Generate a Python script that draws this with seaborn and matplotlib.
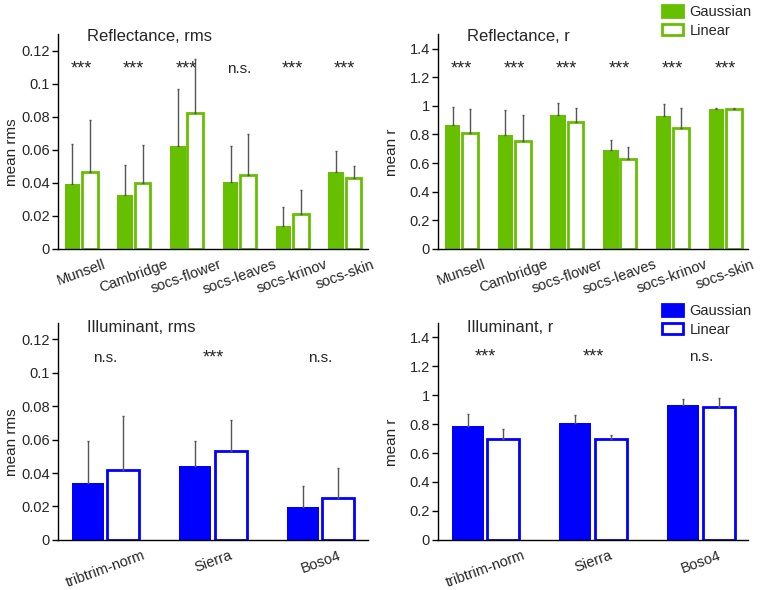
import numpy as np
import pandas as pd
import seaborn as sns
import matplotlib.pyplot as plt
from matplotlib.patches import Patch

sns.set_theme(style="white")
plt.rcParams['font.family'] = ['Liberation Sans', 'DejaVu Sans']

GREEN = '#66c000'
BLUE = '#0000ff'

# reflectance data sets
refl_sets = ["Munsell", "Cambridge", "socs-flower", "socs-leaves", "socs-krinov", "socs-skin"]
refl_rms_gauss = [0.0394, 0.0324, 0.0621, 0.0408, 0.0141, 0.0468]
refl_rms_gauss_err = [0.0243, 0.0186, 0.0348, 0.0213, 0.0114, 0.0125]
refl_rms_lin = [0.0468, 0.0400, 0.0822, 0.0448, 0.0211, 0.0432]
refl_rms_lin_err = [0.0310, 0.0229, 0.0328, 0.0249, 0.0149, 0.0072]
refl_rms_sig = ["***", "***", "***", "n.s.", "***", "***"]

refl_r_gauss = [0.865, 0.795, 0.933, 0.688, 0.926, 0.979]
refl_r_gauss_err = [0.128, 0.175, 0.088, 0.072, 0.088, 0.005]
refl_r_lin = [0.812, 0.751, 0.886, 0.630, 0.844, 0.979]
refl_r_lin_err = [0.169, 0.184, 0.102, 0.084, 0.144, 0.005]
refl_r_sig = ["***", "***", "***", "***", "***", "***"]

# illuminant data sets
illu_sets = ["tribtrim-norm", "Sierra", "Boso4"]
illu_rms_gauss = [0.0343, 0.0443, 0.0196]
illu_rms_gauss_err = [0.0246, 0.0146, 0.0127]
illu_rms_lin = [0.0419, 0.0531, 0.0248]
illu_rms_lin_err = [0.0320, 0.0184, 0.0181]
illu_rms_sig = ["n.s.", "***", "n.s."]

illu_r_gauss = [0.790, 0.804, 0.929]
illu_r_gauss_err = [0.079, 0.058, 0.047]
illu_r_lin = [0.700, 0.698, 0.918]
illu_r_lin_err = [0.067, 0.027, 0.065]
illu_r_sig = ["***", "***", "n.s."]


def panel(ax, cats, g, ge, l, le, sig, color, title, title_y, ylabel, ylim, yticks, ticklabels,
          sig_y, legend_y=None):
    df = pd.DataFrame({
        "set": cats * 2,
        "model": ["Gaussian"] * len(cats) + ["Linear"] * len(cats),
        "val": g + l,
    })
    sns.barplot(data=df, x="set", y="val", hue="model", ax=ax, palette=[color, color],
                width=0.66, gap=0.1, errorbar=None, legend=False, saturation=1)
    # linear bars are hollow
    for bar in ax.containers[0]:
        bar.set_edgecolor('none')
    for bar in ax.containers[1]:
        bar.set_facecolor('white')
        bar.set_edgecolor(color)
        bar.set_linewidth(2)
    # one-sided (upper) error bars
    for cont, errs in zip(ax.containers, [ge, le]):
        xs = [b.get_x() + b.get_width() / 2 for b in cont]
        ys = [b.get_height() for b in cont]
        ax.errorbar(xs, ys, yerr=[np.zeros(len(errs)), errs], fmt='none',
                    ecolor='#555555', elinewidth=1, capsize=1, zorder=1)
    for i, s in enumerate(sig):
        ax.text(i, sig_y, s, ha='center', va='center', fontsize=13 if s == "***" else 11)
    ax.set_xlim(-0.44, len(cats) - 0.56)
    ax.set_ylim(*ylim)
    ax.set_yticks(yticks)
    ax.set_yticklabels(ticklabels, fontsize=10.5)
    ax.set_xticks(range(len(cats)))
    ax.set_xticklabels(cats, rotation=20, ha='center', fontsize=10.5)
    ax.set_xlabel("")
    ax.set_ylabel(ylabel, fontsize=11)
    ax.yaxis.set_label_coords(-0.125, 0.45)
    ax.text(0.093, title_y, title, transform=ax.transAxes, ha='left', va='center', fontsize=12)
    sns.despine(ax=ax)
    for sp in ['left', 'bottom']:
        ax.spines[sp].set_color('black')
        ax.spines[sp].set_linewidth(1)
    ax.tick_params(axis='y', left=True, length=4, width=1, color='black', pad=2)
    ax.tick_params(axis='x', bottom=False, pad=0)
    if legend_y is not None:
        handles = [Patch(facecolor=color, edgecolor=color, linewidth=2),
                   Patch(facecolor='white', edgecolor=color, linewidth=2)]
        ax.legend(handles, ["Gaussian", "Linear"], loc='upper right', bbox_to_anchor=(1.01, legend_y),
                  frameon=False, fontsize=10.5, handlelength=1.5, handleheight=0.85,
                  handletextpad=0.4, labelspacing=0.3, borderaxespad=0, borderpad=0)


fig = plt.figure(figsize=(7.62, 5.90), dpi=100)
ax1 = fig.add_axes([0.076, 0.578, 0.407, 0.364])
ax2 = fig.add_axes([0.575, 0.578, 0.407, 0.364])
ax3 = fig.add_axes([0.076, 0.085, 0.407, 0.368])
ax4 = fig.add_axes([0.575, 0.085, 0.407, 0.368])

rms_ticks = [0, 0.02, 0.04, 0.06, 0.08, 0.1, 0.12]
rms_labels = ["0", "0.02", "0.04", "0.06", "0.08", "0.1", "0.12"]
r_ticks = [0, 0.2, 0.4, 0.6, 0.8, 1.0, 1.2, 1.4]
r_labels = ["0", "0.2", "0.4", "0.6", "0.8", "1", "1.2", "1.4"]

panel(ax1, refl_sets, refl_rms_gauss, refl_rms_gauss_err, refl_rms_lin, refl_rms_lin_err,
      refl_rms_sig, GREEN, "Reflectance, rms", 0.99, "mean rms", (0, 0.13), rms_ticks, rms_labels, 0.109)
panel(ax2, refl_sets, refl_r_gauss, refl_r_gauss_err, refl_r_lin, refl_r_lin_err,
      refl_r_sig, GREEN, "Reflectance, r", 0.99, "mean r", (0, 1.5), r_ticks, r_labels, 1.26,
      legend_y=1.135)
panel(ax3, illu_sets, illu_rms_gauss, illu_rms_gauss_err, illu_rms_lin, illu_rms_lin_err,
      illu_rms_sig, BLUE, "Illuminant, rms", 0.98, "mean rms", (0, 0.13), rms_ticks, rms_labels, 0.109)
panel(ax4, illu_sets, illu_r_gauss, illu_r_gauss_err, illu_r_lin, illu_r_lin_err,
      illu_r_sig, BLUE, "Illuminant, r", 0.98, "mean r", (0, 1.5), r_ticks, r_labels, 1.26,
      legend_y=1.085)

fig.savefig("out.png", dpi=100)
